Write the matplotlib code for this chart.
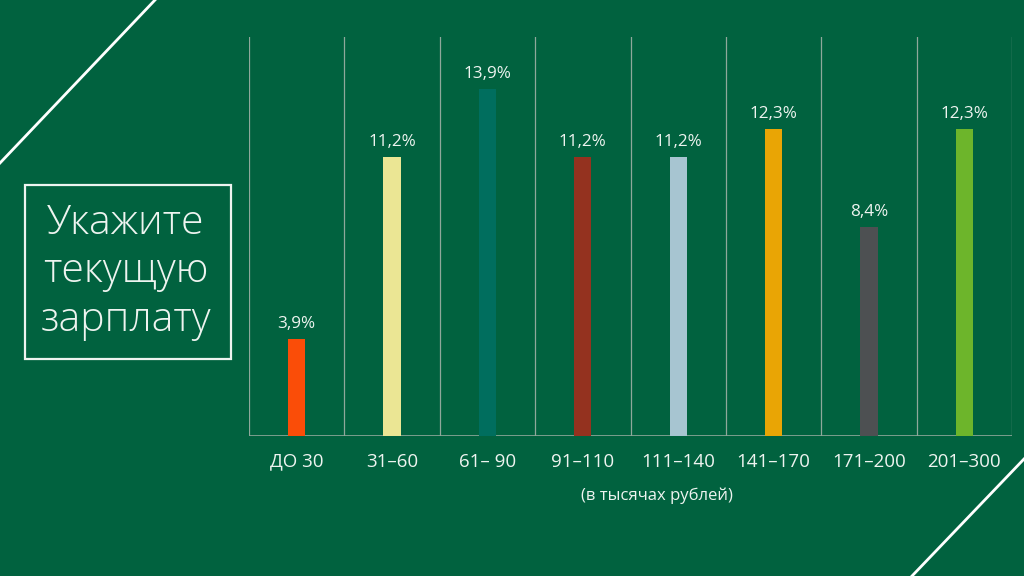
import matplotlib
matplotlib.use("Agg")
import matplotlib.pyplot as plt
from matplotlib.lines import Line2D
from matplotlib.patches import Rectangle

categories = ["ДО 30", "31–60", "61– 90", "91–110", "111–140", "141–170", "171–200", "201–300"]
values = [3.9, 11.2, 13.9, 11.2, 11.2, 12.3, 8.4, 12.3]
colors = ["#FA4D08", "#EBE694", "#006E5E", "#94321F", "#A7C5D1", "#E9A505", "#4D5052", "#6DB52B"]
title = "Укажите\nтекущую\nзарплату"
xlabel = "(в тысячах рублей)"

BG = "#01623F"
TXT = "#EEF4F0"
GRID = "#8FA89B"
FONT = ["Open Sans", "DejaVu Sans"]
plt.rcParams['font.family'] = FONT

W, H = 1024, 576
fig = plt.figure(figsize=(W / 100, H / 100), dpi=100, facecolor=BG)

ax = fig.add_axes([249 / W, (H - 436) / H, (1012 - 249) / W, (436 - 37) / H])
ax.set_facecolor(BG)
x = list(range(len(categories)))
bars = ax.bar(x, values, width=0.18, color=colors, zorder=3)
ax.set_xlim(-0.5, len(categories) - 0.5)
ax.set_ylim(0, 16)
for b in [i - 0.5 for i in range(len(categories) + 1)]:
    ax.axvline(b, color=GRID, lw=0.9, zorder=1)
for s in ax.spines.values():
    s.set_visible(False)
ax.axhline(0, color=GRID, lw=1.2, zorder=2)
ax.set_yticks([])
ax.set_xticks(x)
ax.set_xticklabels(categories, color=TXT, fontsize=13.5)
ax.tick_params(axis='x', length=0, pad=12)
for rect, v in zip(bars, values):
    ax.annotate(f"{v:.1f}%".replace(".", ","), (rect.get_x() + rect.get_width() / 2, v),
                xytext=(0, 5), textcoords="offset points", ha="center", va="bottom",
                color=TXT, fontsize=12.3)

fig.text(657 / W, 1 - 496 / H, xlabel, ha="center", va="center", color=TXT, fontsize=12)

# Title box
fig.patches.append(Rectangle((25 / W, 1 - 359 / H), (231 - 25) / W, (359 - 185) / H,
                             transform=fig.transFigure, fill=False, ec=TXT, lw=1.6))
fig.text(126 / W, 1 - 272 / H, title, ha="center", va="center", color=TXT,
         fontsize=29.5, fontweight="light", linespacing=1.24)

# Decorative diagonal lines
fig.add_artist(Line2D([0, 155 / W], [1 - 163 / H, 1], transform=fig.transFigure, color="white", lw=2))
fig.add_artist(Line2D([912 / W, 1], [0, 1 - 459 / H], transform=fig.transFigure, color="white", lw=2))

fig.savefig("out.png", dpi=100, facecolor=BG)
